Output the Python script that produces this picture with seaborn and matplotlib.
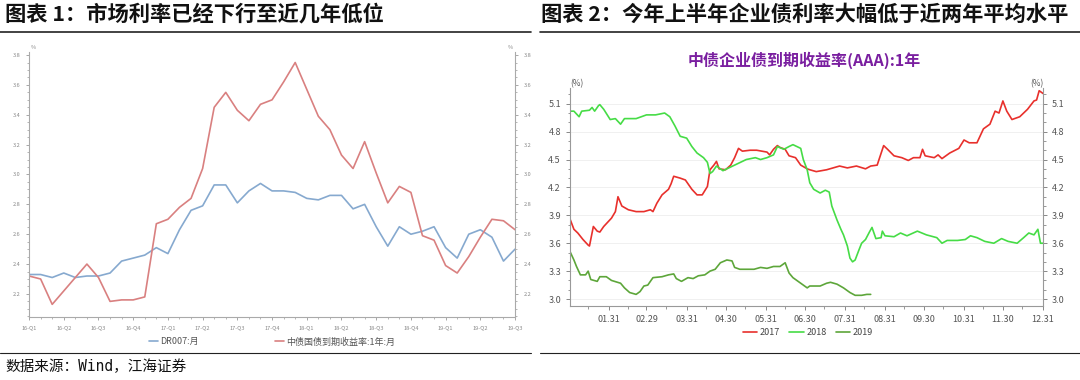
import numpy as np
import pandas as pd
import matplotlib.pyplot as plt
import seaborn as sns
from matplotlib.ticker import MultipleLocator, FixedLocator

# ---- chart 1: monthly rates, 2016-01 .. 2019-07 ----
quarter_labels = ["16-Q1", "16-Q2", "16-Q3", "16-Q4", "17-Q1", "17-Q2", "17-Q3", "17-Q4",
                  "18-Q1", "18-Q2", "18-Q3", "18-Q4", "19-Q1", "19-Q2", "19-Q3"]
dr007 = [2.33, 2.33, 2.31, 2.34, 2.31, 2.32, 2.32, 2.34, 2.42, 2.44, 2.46, 2.51,
         2.47, 2.63, 2.76, 2.79, 2.93, 2.93, 2.81, 2.89, 2.94, 2.89, 2.89, 2.88,
         2.84, 2.83, 2.86, 2.86, 2.77, 2.80, 2.65, 2.52, 2.65, 2.60, 2.62, 2.65,
         2.51, 2.44, 2.60, 2.63, 2.58, 2.42, 2.50]
gov_1y = [2.32, 2.30, 2.13, 2.22, 2.31, 2.40, 2.31, 2.15, 2.16, 2.16, 2.18, 2.67,
          2.70, 2.78, 2.84, 3.04, 3.45, 3.55, 3.43, 3.36, 3.47, 3.50, 3.62, 3.75,
          3.57, 3.39, 3.30, 3.13, 3.04, 3.22, 3.01, 2.81, 2.92, 2.88, 2.59, 2.56,
          2.39, 2.34, 2.45, 2.58, 2.70, 2.69, 2.63]

# ---- chart 2: AAA 1y enterprise bond yield by day of year ----
month_labels = ["01.31", "02.29", "03.31", "04.30", "05.31", "06.30",
                "07.31", "08.31", "09.30", "10.31", "11.30", "12.31"]
month_end_days = [30, 59, 90, 120, 151, 181, 212, 243, 273, 304, 334, 365]

days_2017 = [0, 3, 6, 10, 14, 15, 18, 21, 23, 26, 32, 35, 37, 40, 45, 51, 57, 62, 64, 67,
             71, 76, 78, 80, 85, 89, 94, 98, 102, 106, 108, 111, 113, 115, 120, 124, 127,
             130, 133, 139, 144, 148, 152, 154, 157, 160, 162, 166, 169, 174, 178, 183,
             185, 190, 198, 208, 214, 221, 228, 232, 237, 242, 245, 250, 256, 261, 265,
             270, 272, 274, 281, 284, 287, 293, 300, 304, 308, 314, 319, 324, 328, 331,
             334, 337, 341, 347, 353, 358, 360, 362, 365]
yield_2017 = [3.86, 3.75, 3.71, 3.64, 3.58, 3.57, 3.78, 3.73, 3.72, 3.78, 3.87, 3.94, 4.10,
              4.00, 3.96, 3.94, 3.94, 3.96, 3.94, 4.03, 4.12, 4.18, 4.24, 4.32, 4.30, 4.28,
              4.18, 4.12, 4.12, 4.21, 4.39, 4.44, 4.48, 4.40, 4.39, 4.44, 4.52, 4.62, 4.59,
              4.60, 4.60, 4.59, 4.58, 4.55, 4.61, 4.65, 4.63, 4.61, 4.54, 4.52, 4.44, 4.40,
              4.39, 4.37, 4.39, 4.43, 4.41, 4.43, 4.40, 4.43, 4.44, 4.65, 4.61, 4.54, 4.52,
              4.49, 4.52, 4.52, 4.61, 4.54, 4.52, 4.55, 4.51, 4.57, 4.62, 4.71, 4.68, 4.68,
              4.83, 4.88, 5.02, 5.00, 5.13, 5.02, 4.93, 4.96, 5.04, 5.13, 5.14, 5.24, 5.21]

days_2018 = [0, 3, 7, 9, 15, 17, 19, 22, 23, 26, 31, 35, 39, 42, 51, 59, 66, 73, 77, 81,
             85, 90, 94, 98, 103, 106, 108, 110, 113, 118, 124, 130, 136, 143, 147, 152,
             157, 160, 165, 169, 172, 178, 180, 183, 185, 188, 193, 197, 200, 202, 206,
             209, 211, 214, 216, 218, 220, 223, 225, 228, 231, 233, 236, 240, 241, 243,
             250, 255, 260, 268, 275, 283, 287, 291, 299, 305, 309, 314, 320, 327, 333,
             338, 345, 350, 354, 358, 361, 363, 365]
yield_2018 = [5.02, 5.02, 4.96, 5.02, 5.03, 5.06, 5.02, 5.08, 5.09, 5.04, 4.93, 4.94, 4.88,
              4.94, 4.94, 4.98, 4.98, 5.00, 4.96, 4.86, 4.75, 4.73, 4.64, 4.57, 4.52, 4.47,
              4.35, 4.37, 4.43, 4.38, 4.42, 4.46, 4.50, 4.52, 4.50, 4.52, 4.55, 4.64, 4.61,
              4.64, 4.66, 4.62, 4.50, 4.39, 4.25, 4.18, 4.14, 4.17, 4.15, 4.00, 3.85, 3.75,
              3.69, 3.57, 3.44, 3.40, 3.42, 3.53, 3.60, 3.64, 3.72, 3.77, 3.65, 3.66, 3.73,
              3.68, 3.67, 3.71, 3.68, 3.73, 3.69, 3.66, 3.60, 3.63, 3.63, 3.64, 3.68, 3.66,
              3.62, 3.60, 3.65, 3.62, 3.60, 3.66, 3.71, 3.69, 3.75, 3.60, 3.60]

days_2019 = [0, 3, 5, 8, 12, 14, 16, 21, 23, 28, 32, 39, 42, 46, 51, 54, 57, 60, 64, 71,
             76, 80, 82, 86, 91, 95, 99, 104, 108, 112, 116, 121, 125, 127, 131, 136, 142,
             147, 152, 157, 162, 166, 169, 172, 178, 183, 185, 193, 198, 201, 206, 211,
             216, 220, 225, 229, 232]
yield_2019 = [3.51, 3.42, 3.35, 3.26, 3.26, 3.30, 3.21, 3.19, 3.24, 3.24, 3.20, 3.17, 3.12,
              3.07, 3.05, 3.08, 3.14, 3.15, 3.23, 3.24, 3.26, 3.27, 3.22, 3.19, 3.23, 3.22,
              3.25, 3.26, 3.30, 3.32, 3.39, 3.42, 3.41, 3.34, 3.32, 3.32, 3.32, 3.34, 3.33,
              3.35, 3.35, 3.39, 3.28, 3.23, 3.17, 3.12, 3.14, 3.14, 3.17, 3.18, 3.16, 3.12,
              3.07, 3.04, 3.04, 3.05, 3.05]

sns.set_theme(style="white")
plt.rcParams['font.family'] = ['Noto Sans CJK SC', 'DejaVu Sans']

fig = plt.figure(figsize=(10.8, 3.8), dpi=100)

# ---------------- chart 1 ----------------
df1 = pd.DataFrame({"month": np.arange(len(dr007)), "DR007:月": dr007,
                    "中债国债到期收益率:1年:月": gov_1y})
df1 = df1.melt(id_vars="month", var_name="series", value_name="rate")

ax1 = fig.add_axes([0.0269, 0.166, 0.45, 0.697])
sns.lineplot(data=df1, x="month", y="rate", hue="series", ax=ax1,
             palette=["#86a9cf", "#d98080"], linewidth=1.2)
ax1.set_xlim(0, len(dr007) - 1)
ax1.set_ylim(2.046, 3.82)
ax1.set_xticks(np.arange(0, len(dr007), 3))
ax1.set_xticklabels(quarter_labels)
ax1.xaxis.set_minor_locator(MultipleLocator(1))
ax1.set_yticks(np.arange(2.2, 3.81, 0.2))
ax1.set_yticklabels([f"{v:.1f}" for v in np.arange(2.2, 3.81, 0.2)])
ax1.yaxis.set_minor_locator(MultipleLocator(0.05))
ax1.tick_params(which="both", direction="out", colors="#999999", labelcolor="#888888",
                labelsize=4, left=True, right=True, bottom=True, labelright=True)
ax1.tick_params(which="major", length=2.5, width=0.6)
ax1.tick_params(which="minor", length=1.5, width=0.5)
ax1.set_xlabel("")
ax1.set_ylabel("")
for side in ["left", "right", "bottom"]:
    ax1.spines[side].set_color("#aaaaaa")
    ax1.spines[side].set_linewidth(0.8)
ax1.spines["top"].set_visible(False)
ax1.text(0.004, 1.01, "%", transform=ax1.transAxes, fontsize=4, color="#888888")
ax1.text(0.996, 1.01, "%", transform=ax1.transAxes, fontsize=4, color="#888888", ha="right")
leg1 = ax1.legend(loc="center", bbox_to_anchor=(0.5, -0.094), ncol=2, frameon=False,
                  fontsize=6.5, handlelength=1.0, handletextpad=0.2, columnspacing=8.5)
for t in leg1.get_texts():
    t.set_color("#555555")

# ---------------- chart 2 ----------------
df2 = pd.concat([
    pd.DataFrame({"day": days_2017, "yield": yield_2017, "year": "2017"}),
    pd.DataFrame({"day": days_2018, "yield": yield_2018, "year": "2018"}),
    pd.DataFrame({"day": days_2019, "yield": yield_2019, "year": "2019"}),
])
ax2 = fig.add_axes([0.5278, 0.1947, 0.438, 0.5737])
sns.lineplot(data=df2, x="day", y="yield", hue="year", ax=ax2,
             palette=["#e8302c", "#46dc46", "#5da63a"], linewidth=1.2)
ax2.set_xlim(0, 365)
ax2.set_ylim(2.925, 5.269)
ax2.set_xticks(month_end_days)
ax2.set_xticklabels(month_labels)
ax2.xaxis.set_minor_locator(FixedLocator([14, 45, 74, 105, 135, 166, 196, 227, 258, 288, 319, 349]))
ytk = np.arange(3.0, 5.11, 0.3)
ax2.set_yticks(ytk)
ax2.set_yticklabels([f"{v:.1f}" for v in ytk])
ax2.yaxis.set_minor_locator(MultipleLocator(0.1))
ax2.grid(axis="y", color="#eeeeee", linewidth=0.6)
ax2.tick_params(which="both", direction="out", colors="#888888", labelcolor="#555555",
                labelsize=6.5, left=True, right=True, bottom=True, labelright=True)
ax2.tick_params(which="major", length=3, width=0.7)
ax2.tick_params(which="minor", length=1.8, width=0.6)
ax2.set_xlabel("")
ax2.set_ylabel("")
for side in ["left", "right", "bottom"]:
    ax2.spines[side].set_color("#999999")
    ax2.spines[side].set_linewidth(0.8)
ax2.spines["top"].set_visible(False)
ax2.text(0.0, 1.01, "(%)", transform=ax2.transAxes, fontsize=6, color="#555555")
ax2.text(1.0, 1.01, "(%)", transform=ax2.transAxes, fontsize=6, color="#555555", ha="right")
leg2 = ax2.legend(loc="center", bbox_to_anchor=(0.503, -0.12), ncol=3, frameon=False,
                  fontsize=6.5, handlelength=1.6, handletextpad=0.3, columnspacing=1.0)
for t in leg2.get_texts():
    t.set_color("#444444")

fig.text(0.745, 0.842, "中债企业债到期收益率(AAA):1年", ha="center", va="center",
         fontsize=11.5, fontweight="bold", color="#7a1fa0")

# ---------------- headers / footer ----------------
fig.text(0.005, 0.963, "图表 1：市场利率已经下行至近几年低位", ha="left", va="center",
         fontsize=15.3, fontweight="bold", color="#111111")
fig.text(0.501, 0.963, "图表 2：今年上半年企业债利率大幅低于近两年平均水平", ha="left", va="center",
         fontsize=15.3, fontweight="bold", color="#111111")
fig.add_artist(plt.Line2D([0.0, 0.492], [0.917, 0.917], color="#222222", linewidth=1.2))
fig.add_artist(plt.Line2D([0.5, 1.0], [0.917, 0.917], color="#222222", linewidth=1.2))
fig.add_artist(plt.Line2D([0.0, 0.492], [0.071, 0.071], color="#222222", linewidth=0.8))
fig.add_artist(plt.Line2D([0.5, 1.0], [0.071, 0.071], color="#222222", linewidth=0.8))
fig.text(0.005, 0.036, "数据来源：Wind，江海证券", ha="left", va="center",
         fontsize=10.5, color="#111111", family=["DejaVu Sans Mono", "Noto Sans CJK SC"])

fig.savefig("out.png", dpi=100)
